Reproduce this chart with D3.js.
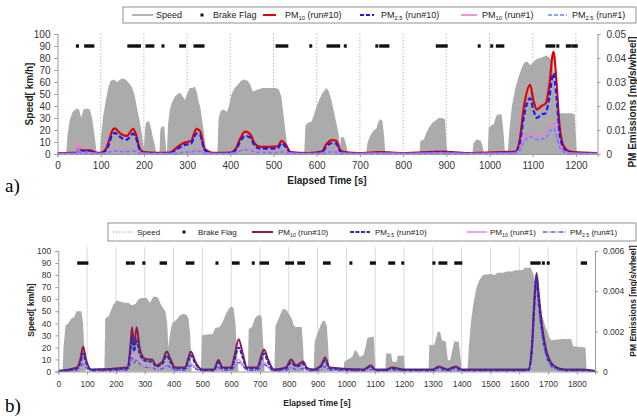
<!DOCTYPE html>
<meta charset="utf-8">
<style>
body { margin: 0; background: #fff; }
svg { display: block; font-family: "Liberation Sans", Arial, sans-serif; }
.axis .domain { stroke: #999; }
.axis .tick line { stroke: #999; }
.axis .tick text { fill: #333; }
</style>
<svg width="637" height="416"></svg>
<script src="https://cdn.jsdelivr.net/npm/d3@7"></script>
<script>
// ---------- panel a) ----------
var speedA = [[0,0],[20,0],[23,15],[28,28],[35,35],[44,38],[50,37],[55,30],[60,37],[68,38],[75,37],[80,30],[86,15],[91,0],
  [98,0],[101,15],[106,32],[112,45],[118,56],[123,61],[130,62],[138,60],[145,62],[150,63],[158,62],[163,60],[168,58],[173,55],[178,50],[183,40],[190,28],[196,15],[200,5],[203,22],[206,27],[212,27],[216,22],[220,15],[225,8],[229,0],
  [236,0],[238,20],[241,23],[247,23],[250,10],[252,0],
  [253,0],[256,25],[260,37],[265,43],[272,48],[278,50],[284,51],[290,48],[295,45],[300,50],[306,55],[312,55],[318,56],[322,52],[326,45],[331,38],[336,25],[341,12],[345,0],
  [370,0],[373,30],[378,36],[385,37],[392,35],[397,40],[403,50],[410,55],[418,58],[425,61],[432,62],[440,61],[446,58],[452,52],[458,53],[465,54],[475,55],[490,55],[505,55],[512,54],[518,48],[524,30],[530,12],[535,0],
  [571,0],[574,24],[580,26],[588,27],[594,33],[600,40],[606,45],[612,50],[618,53],[623,55],[628,52],[634,45],[640,35],[646,25],[651,16],[654,6],[656,14],[663,14],[668,8],[673,0],
  [714,0],[718,10],[725,16],[733,20],[738,21],[742,26],[747,29],[752,28],[756,15],[759,0],
  [838,0],[840,11],[848,12],[853,17],[860,22],[868,26],[875,28],[882,30],[890,30],[897,29],[900,10],[903,0],
  [960,0],[963,9],[970,12],[980,11],[985,5],[987,0],
  [996,0],[998,22],[1005,24],[1010,25],[1014,30],[1018,33],[1028,33],[1032,20],[1036,0],
  [1042,0],[1046,20],[1052,40],[1060,55],[1068,65],[1075,72],[1080,76],[1088,77],[1094,74],[1100,76],[1108,79],[1117,80],[1125,81],[1132,82],[1140,80],[1147,75],[1152,55],[1156,40],[1160,34],[1170,34],[1180,34],[1190,34],[1197,33],[1200,15],[1202,0],[1250,0]];

var pmTimeA = [0,20,45,48,52,60,75,90,100,112,120,126,133,140,150,160,168,175,182,191,
  200,230,260,275,290,300,310,316,322,330,341,360,400,412,422,434,445,458,470,490,
  510,519,528,540,580,612,622,635,645,655,665,700,750,800,890,950,1030,1060,1070,1080,
  1094,1102,1110,1120,1130,1138,1148,1155,1162,1170,1180,1195,1250];
var pm10Run10A = [0.0004,0.0004,0.0006,0.0025,0.0018,0.0015,0.0015,0.0006,0.0005,0.002,
  0.006,0.0095,0.0107,0.0095,0.008,0.0075,0.009,0.0105,0.008,0.002,
  0.0008,0.0005,0.0006,0.0025,0.0045,0.005,0.0055,0.0085,0.0105,0.0095,
  0.002,0.0005,0.0006,0.002,0.006,0.0093,0.0085,0.004,0.003,0.003,
  0.0032,0.0055,0.004,0.0008,0.0004,0.001,0.004,0.0058,0.0055,0.0015,
  0.0008,0.0004,0.0008,0.0004,0.001,0.0004,0.0008,0.001,0.006,0.02,
  0.0288,0.022,0.0185,0.02,0.021,0.028,0.0426,0.03,0.012,0.004,
  0.0015,0.0008,0.0004];
var pm25Run10A = [0.0002,0.0002,0.0004,0.003,0.0015,0.0012,0.0012,0.0004,0.0003,0.0015,
  0.0045,0.0078,0.0088,0.0078,0.0065,0.006,0.0072,0.0085,0.0065,0.0015,
  0.0005,0.0003,0.0004,0.0018,0.0035,0.004,0.0045,0.007,0.0085,0.0078,
  0.0015,0.0003,0.0004,0.0015,0.0048,0.0075,0.007,0.003,0.0022,0.0022,
  0.0025,0.0045,0.003,0.0005,0.0002,0.0007,0.003,0.0045,0.0043,0.001,
  0.0005,0.0002,0.0005,0.0002,0.0007,0.0002,0.0005,0.0007,0.0045,0.016,
  0.0232,0.018,0.015,0.0165,0.017,0.023,0.0336,0.024,0.009,0.003,
  0.001,0.0005,0.0002];
var pm10Run1A = [0.0002,0.0002,0.0003,0.005,0.0008,0.0006,0.0006,0.0003,0.0002,0.0005,
  0.001,0.0015,0.0016,0.0015,0.0014,0.0013,0.0014,0.0015,0.0012,0.0005,
  0.0003,0.0002,0.0002,0.0006,0.0009,0.001,0.0011,0.0014,0.0016,0.0015,
  0.0005,0.0002,0.0002,0.0006,0.0015,0.0022,0.002,0.001,0.0008,0.0008,
  0.0008,0.001,0.0008,0.0003,0.0002,0.0003,0.0008,0.0012,0.0011,0.0004,
  0.0003,0.0002,0.0003,0.0002,0.0004,0.0002,0.0003,0.0004,0.002,0.0065,
  0.0088,0.008,0.0073,0.0076,0.008,0.0105,0.0128,0.009,0.004,0.0015,
  0.0006,0.0003,0.0002];
var pm25Run1A = [0.0001,0.0001,0.0002,0.0015,0.0005,0.0004,0.0004,0.0002,0.0001,0.0004,
  0.0008,0.0011,0.0012,0.0011,0.001,0.001,0.0011,0.0012,0.0009,0.0004,
  0.0002,0.0001,0.0001,0.0004,0.0007,0.0008,0.0008,0.0011,0.0012,0.0011,
  0.0004,0.0001,0.0001,0.0005,0.0012,0.0017,0.0015,0.0008,0.0006,0.0006,
  0.0006,0.0008,0.0006,0.0002,0.0001,0.0002,0.0006,0.0009,0.0008,0.0003,
  0.0002,0.0001,0.0002,0.0001,0.0003,0.0001,0.0002,0.0003,0.0015,0.005,
  0.0072,0.0066,0.006,0.0063,0.0066,0.0088,0.0107,0.0075,0.003,0.001,
  0.0004,0.0002,0.0001];
var brakeA = [[45,47],[64,83],[164,183],[186,191],[206,222],[243,245],[284,295],[317,338],[507,532],[585,587],
  [625,652],[665,667],[738,740],[747,766],[878,901],[975,977],[1004,1006],[1017,1032],[1132,1150],[1157,1159],[1179,1188],[1193,1202]];
var xTicksA = [0,100,200,300,400,500,600,700,800,900,1000,1100,1200];
var pmTicksA = [0,0.01,0.02,0.03,0.04,0.05];

// ---------- panel b) ----------
var speedB = [[0,0],[15,0],[18,20],[25,38],[35,40],[45,44],[55,45],[63,50],[80,50],[86,40],[92,10],[96,0],
  [160,0],[163,44],[175,46],[190,55],[202,59],[215,58],[230,57],[243,57],[255,55],[268,56],[278,60],[290,61],[307,61],[318,57],[330,62],[340,62],[347,61],[355,56],[365,52],[372,50],[378,40],[382,20],[387,30],[395,40],[410,43],[420,46],[432,48],[445,47],[452,44],[458,30],[463,0],
  [495,0],[498,30],[520,31],[535,31],[545,36],[560,37],[572,42],[582,48],[592,52],[600,54],[608,53],[615,40],[620,15],[625,0],
  [658,0],[661,35],[672,37],[682,44],[690,46],[700,47],[706,45],[712,20],[716,0],
  [750,0],[754,38],[765,44],[775,50],[783,52],[792,51],[800,48],[810,44],[818,38],[824,37],[845,37],[850,20],[853,0],
  [886,0],[890,25],[900,32],[910,38],[918,42],[925,42],[932,38],[937,20],[940,0],
  [990,0],[993,8],[1005,10],[1020,12],[1030,18],[1038,16],[1047,12],[1060,14],[1068,22],[1073,28],[1095,29],[1099,10],[1101,0],
  [1135,0],[1138,15],[1155,15],[1160,8],[1175,8],[1178,13],[1200,13],[1203,0],
  [1285,0],[1288,22],[1305,22],[1312,28],[1317,33],[1325,33],[1332,26],[1345,25],[1352,10],[1360,9],[1368,18],[1374,25],[1390,25],[1397,10],[1400,0],
  [1420,0],[1425,20],[1432,40],[1440,55],[1451,69],[1462,76],[1474,80],[1500,81],[1515,80],[1525,82],[1545,82],[1555,83],[1575,83],[1585,84],[1610,84],[1620,86],[1640,86],[1650,80],[1662,65],[1675,50],[1690,38],[1705,28],[1712,26],[1750,27],[1780,27],[1787,21],[1830,20],[1834,0],[1863,0]];

var pmTimeB = [0,65,78,86,96,115,240,250,256,263,272,282,295,310,325,340,362,376,390,405,
  440,452,460,475,500,540,556,570,600,612,626,640,655,690,705,714,728,748,790,808,
  825,838,850,862,885,912,926,942,1060,1085,1100,1140,1158,1200,1300,1320,1350,1380,1400,1632,
  1645,1652,1660,1668,1680,1695,1720,1760,1810,1863];
var pm10Run10B = [0.00003,0.0002,0.0007,0.00125,0.0006,0.0001,0.0002,0.0012,0.0022,0.0013,
  0.0022,0.0012,0.0007,0.0006,0.0006,0.0003,0.0005,0.001,0.0006,0.0002,
  0.0002,0.0007,0.001,0.0005,0.0001,0.0001,0.00057,0.0002,0.0002,0.0008,
  0.0016,0.0009,0.0002,0.0002,0.0008,0.0011,0.0006,0.0001,0.0002,0.0006,
  0.0003,0.0004,0.0005,0.0002,0.0001,0.0003,0.0007,0.0002,0.0001,0.0003,
  0.0001,0.0001,0.0002,0.0001,0.0001,0.00025,0.0001,0.00025,0.0001,0.0001,
  0.0015,0.0035,0.0049,0.0038,0.0022,0.001,0.0003,0.0001,0.0001,0.00003];
var pm25Run10B = [0.00002,0.00015,0.0005,0.0009,0.00045,0.00008,0.00015,0.0009,0.0017,0.001,
  0.0016,0.0009,0.0006,0.0005,0.0005,0.00025,0.0004,0.0008,0.00045,0.00015,
  0.00015,0.00055,0.0008,0.0004,0.00008,0.00008,0.00045,0.00015,0.00015,0.0006,
  0.0012,0.0007,0.00015,0.00015,0.0006,0.0009,0.00045,0.00008,0.00015,0.00045,
  0.00025,0.0003,0.0004,0.00015,0.00008,0.00025,0.00055,0.00015,0.00008,0.00025,
  0.00008,0.00008,0.00015,0.00008,0.00008,0.0002,0.00008,0.0002,0.00008,0.00008,
  0.0013,0.0032,0.0047,0.0035,0.002,0.0009,0.00025,0.00008,0.00008,0.00002];
var pm10Run1B = [0.00001,0.00008,0.0003,0.0005,0.00025,0.00004,0.00008,0.0005,0.0009,0.0005,
  0.0008,0.0005,0.0003,0.00025,0.00025,0.00012,0.0002,0.0004,0.00025,0.00008,
  0.00008,0.0003,0.0004,0.0002,0.00004,0.00004,0.00025,0.00008,0.00008,0.0003,
  0.0006,0.00035,0.00008,0.00008,0.0003,0.00045,0.00025,0.00004,0.00008,0.00025,
  0.00012,0.00015,0.0002,0.00008,0.00004,0.00012,0.0003,0.00008,0.00004,0.00012,
  0.00004,0.00004,0.00008,0.00004,0.00004,0.0001,0.00004,0.0001,0.00004,0.00004,
  0.0012,0.003,0.0045,0.0033,0.0018,0.0008,0.0002,0.00004,0.00004,0.00001];
var pm25Run1B = [0.00001,0.00006,0.00025,0.0004,0.0002,0.00003,0.00006,0.0004,0.0007,0.0004,
  0.0006,0.0004,0.00025,0.0002,0.0002,0.0001,0.00015,0.0003,0.0002,0.00006,
  0.00006,0.00025,0.0003,0.00015,0.00003,0.00003,0.0002,0.00006,0.00006,0.00025,
  0.00045,0.0003,0.00006,0.00006,0.00025,0.00035,0.0002,0.00003,0.00006,0.0002,
  0.0001,0.00012,0.00015,0.00006,0.00003,0.0001,0.00025,0.00006,0.00003,0.0001,
  0.00003,0.00003,0.00006,0.00003,0.00003,0.00008,0.00003,0.00008,0.00003,0.00003,
  0.0011,0.0029,0.0043,0.0031,0.0017,0.0007,0.00015,0.00003,0.00003,0.00001];
var brakeB = [[69,101],[238,248],[255,262],[295,299],[355,374],[446,469],[549,551],[606,626],[675,677],[702,728],
  [791,815],[833,853],[922,942],[1014,1016],[1085,1099],[1149,1166],[1194,1196],[1302,1304],[1323,1347],[1378,1399],
  [1642,1671],[1682,1684],[1699,1701],[1817,1832]];
var xTicksB = [0,100,200,300,400,500,600,700,800,900,1000,1100,1200,1300,1400,1500,1600,1700,1800];
var pmTicksB = [0,0.002,0.004,0.006];

var speedTicks = [0,10,20,30,40,50,60,70,80,90,100];

var svg = d3.select("svg");

function drawPanel(o) {
  var x = d3.scaleLinear().domain([0, o.tMax]).range([o.left, o.right]);
  var y = d3.scaleLinear().domain([0, 100]).range([o.bottom, o.top]);
  var y2 = d3.scaleLinear().domain([0, o.pmMax]).range([o.bottom, o.top]);
  var g = svg.append("g");

  // vertical grid
  g.append("g").selectAll("line")
    .data(o.xTicks.filter(function(d){ return d > 0; }))
    .enter().append("line")
    .attr("x1", function(d){ return x(d); }).attr("x2", function(d){ return x(d); })
    .attr("y1", o.gridTop).attr("y2", o.bottom)
    .attr("stroke", o.gridColor).attr("stroke-width", 0.8)
    .attr("stroke-dasharray", o.gridDash);

  // speed area
  var area = d3.area()
    .x(function(d){ return x(d[0]); })
    .y0(o.bottom)
    .y1(function(d){ return y(d[1]); });
  g.append("path").datum(o.speed).attr("d", area).attr("fill", "#ababab");

  // PM lines
  o.series.forEach(function(s) {
    var line = d3.line()
      .x(function(d, i){ return x(o.pmTime[i]); })
      .y(function(d){ return y2(d); })
      .curve(d3.curveMonotoneX);
    g.append("path").datum(s.values).attr("d", line)
      .attr("fill", "none").attr("stroke", s.color)
      .attr("stroke-width", s.width).attr("stroke-dasharray", s.dash || null);
  });

  // brake flag marks at 90 km/h
  g.append("g").selectAll("rect").data(o.brake).enter().append("rect")
    .attr("x", function(d){ return x(d[0]) - 1; })
    .attr("width", function(d){ return Math.max(x(d[1]) - x(d[0]), 1) + 2; })
    .attr("y", y(90) - 1.7).attr("height", 3.4)
    .attr("fill", "#111");

  // axes
  var ax = g.append("g").attr("class", "axis")
    .attr("transform", "translate(0," + o.bottom + ")")
    .call(d3.axisBottom(x).tickValues(o.xTicks).tickSize(3).tickPadding(o.xPad).tickFormat(d3.format("d")));
  ax.selectAll("text").style("font-size", o.font + "px");

  var ay = g.append("g").attr("class", "axis")
    .attr("transform", "translate(" + o.left + ",0)")
    .call(d3.axisLeft(y).tickValues(speedTicks).tickSize(3).tickPadding(4));
  ay.selectAll("text").style("font-size", o.font + "px");

  var ay2 = g.append("g").attr("class", "axis")
    .attr("transform", "translate(" + o.right + ",0)")
    .call(d3.axisRight(y2).tickValues(o.pmTicks).tickSize(3).tickPadding(o.rPad)
      .tickFormat(function(d){ return d === 0 ? "0" : d3.format(o.pmFmt)(d); }));
  ay2.selectAll("text").style("font-size", o.font + "px");

  // axis titles
  g.append("text").attr("transform", "translate(" + o.yTitleX + "," + o.yTitleY + ") rotate(-90)")
    .attr("text-anchor", "middle").attr("font-weight", "bold").attr("font-size", o.titleFont)
    .attr("fill", "#222").text("Speed[ km/h]");
  g.append("text").attr("transform", "translate(" + o.rTitleX + "," + o.rTitleY + ") rotate(-90)")
    .attr("text-anchor", "middle").attr("font-weight", "bold").attr("font-size", o.titleFont)
    .attr("fill", "#222").text("PM Emissions [mg/s/wheel]");
  g.append("text").attr("x", o.xTitleX).attr("y", o.xTitleY)
    .attr("text-anchor", "middle").attr("font-weight", "bold").attr("font-size", o.titleFont)
    .attr("fill", "#222").text("Elapsed Time [s]");

  g.append("text").attr("x", 5).attr("y", o.tagY)
    .attr("font-family", "'Liberation Serif', 'Times New Roman', serif")
    .attr("font-size", 19).attr("fill", "#000").text(o.tag);

  // legend
  var lg = g.append("g");
  lg.append("rect").attr("x", o.lg.x).attr("y", o.lg.y).attr("width", o.lg.w).attr("height", o.lg.h)
    .attr("fill", "#fff").attr("stroke", "#777").attr("stroke-width", 0.8);
  var cy = o.lg.y + o.lg.h / 2;
  o.lg.items.forEach(function(it) {
    if (it.kind === "dot") {
      lg.append("rect").attr("x", it.x0 - 1.5).attr("y", cy - 1.5).attr("width", 3).attr("height", 3).attr("fill", "#111");
    } else {
      lg.append("line").attr("x1", it.x0).attr("x2", it.x1).attr("y1", cy).attr("y2", cy)
        .attr("stroke", it.color).attr("stroke-width", it.width).attr("stroke-dasharray", it.dash || null);
    }
    var t = lg.append("text").attr("x", it.tx).attr("y", cy + o.lg.font * 0.36)
      .attr("font-size", o.lg.font).attr("fill", "#222");
    t.append("tspan").text(it.label);
    if (it.sub) {
      t.append("tspan").attr("font-size", o.lg.font * 0.65).attr("dy", 2).text(it.sub);
      t.append("tspan").attr("dy", -2).text(it.rest);
    }
  });
}

drawPanel({
  tMax: 1250, left: 57.5, right: 597.5, top: 34, bottom: 154,
  pmMax: 0.05, pmTicks: pmTicksA, pmFmt: ".2f", xTicks: xTicksA,
  speed: speedA, pmTime: pmTimeA, brake: brakeA,
  series: [
    { values: pm10Run10A, color: "#e00000", width: 2.2 },
    { values: pm25Run10A, color: "#1a1aff", width: 2.2, dash: "5,2.5" },
    { values: pm10Run1A, color: "#f07ad0", width: 1.6 },
    { values: pm25Run1A, color: "#5a8cff", width: 1.6, dash: "4,2" }
  ],
  gridTop: 34, gridColor: "#999", gridDash: "1.2,2",
  font: 10, titleFont: 10, xPad: 5, rPad: 6,
  yTitleX: 33, yTitleY: 94, rTitleX: 636, rTitleY: 102, xTitleX: 327, xTitleY: 184,
  tag: "a)", tagY: 192,
  lg: { x: 123, y: 7, w: 513, h: 16, font: 9, items: [
    { x0: 132, x1: 153, color: "#999", width: 1.5, tx: 156, label: "Speed" },
    { kind: "dot", x0: 202, tx: 213, label: "Brake Flag" },
    { x0: 263, x1: 276, color: "#e00000", width: 2, tx: 285, label: "PM", sub: "10", rest: "  (run#10)" },
    { x0: 360, x1: 374, color: "#1a1aff", width: 2, dash: "4,2", tx: 381, label: "PM", sub: "2.5", rest: "  (run#10)" },
    { x0: 461, x1: 477, color: "#f07ad0", width: 1.6, tx: 482, label: "PM", sub: "10", rest: " (run#1)" },
    { x0: 548, x1: 567, color: "#5a8cff", width: 1.6, dash: "4,2", tx: 572, label: "PM", sub: "2.5", rest: "  (run#1)" }
  ]}
});

drawPanel({
  tMax: 1863, left: 58.3, right: 595, top: 251, bottom: 371.5,
  pmMax: 0.006, pmTicks: pmTicksB, pmFmt: ".3f", xTicks: xTicksB,
  speed: speedB, pmTime: pmTimeB, brake: brakeB,
  series: [
    { values: pm10Run1B, color: "#d79ad6", width: 1.6 },
    { values: pm25Run1B, color: "#5c5ce0", width: 1.6, dash: "4,1.5,1,1.5" },
    { values: pm10Run10B, color: "#8e1a4a", width: 2 },
    { values: pm25Run10B, color: "#2c2cb8", width: 2, dash: "4,1.5" }
  ],
  gridTop: 247, gridColor: "#d0d0d0", gridDash: null,
  font: 8.5, titleFont: 8.5, xPad: 6, rPad: 5,
  yTitleX: 34, yTitleY: 310, rTitleX: 636, rTitleY: 301, xTitleX: 317, xTitleY: 406,
  tag: "b)", tagY: 412,
  lg: { x: 108, y: 223, w: 528, h: 18, font: 8, items: [
    { x0: 113, x1: 132, color: "#aaa", width: 1, dash: "1.5,1.5", tx: 137, label: "Speed" },
    { kind: "dot", x0: 184, tx: 198, label: "Brake Flag" },
    { x0: 252, x1: 273, color: "#8e1a4a", width: 2, tx: 278, label: "PM", sub: "10", rest: " (run#10)" },
    { x0: 350, x1: 370, color: "#2c2cb8", width: 2, dash: "4,1.5", tx: 375, label: "PM", sub: "2.5", rest: "  (run#10)" },
    { x0: 467, x1: 487, color: "#d79ad6", width: 1.6, tx: 490, label: "PM", sub: "10", rest: " (run#1)" },
    { x0: 543, x1: 567, color: "#5c5ce0", width: 1.6, dash: "4,1.5,1,1.5", tx: 570, label: "PM", sub: "2.5", rest: "  (run#1)" }
  ]}
});
</script>
